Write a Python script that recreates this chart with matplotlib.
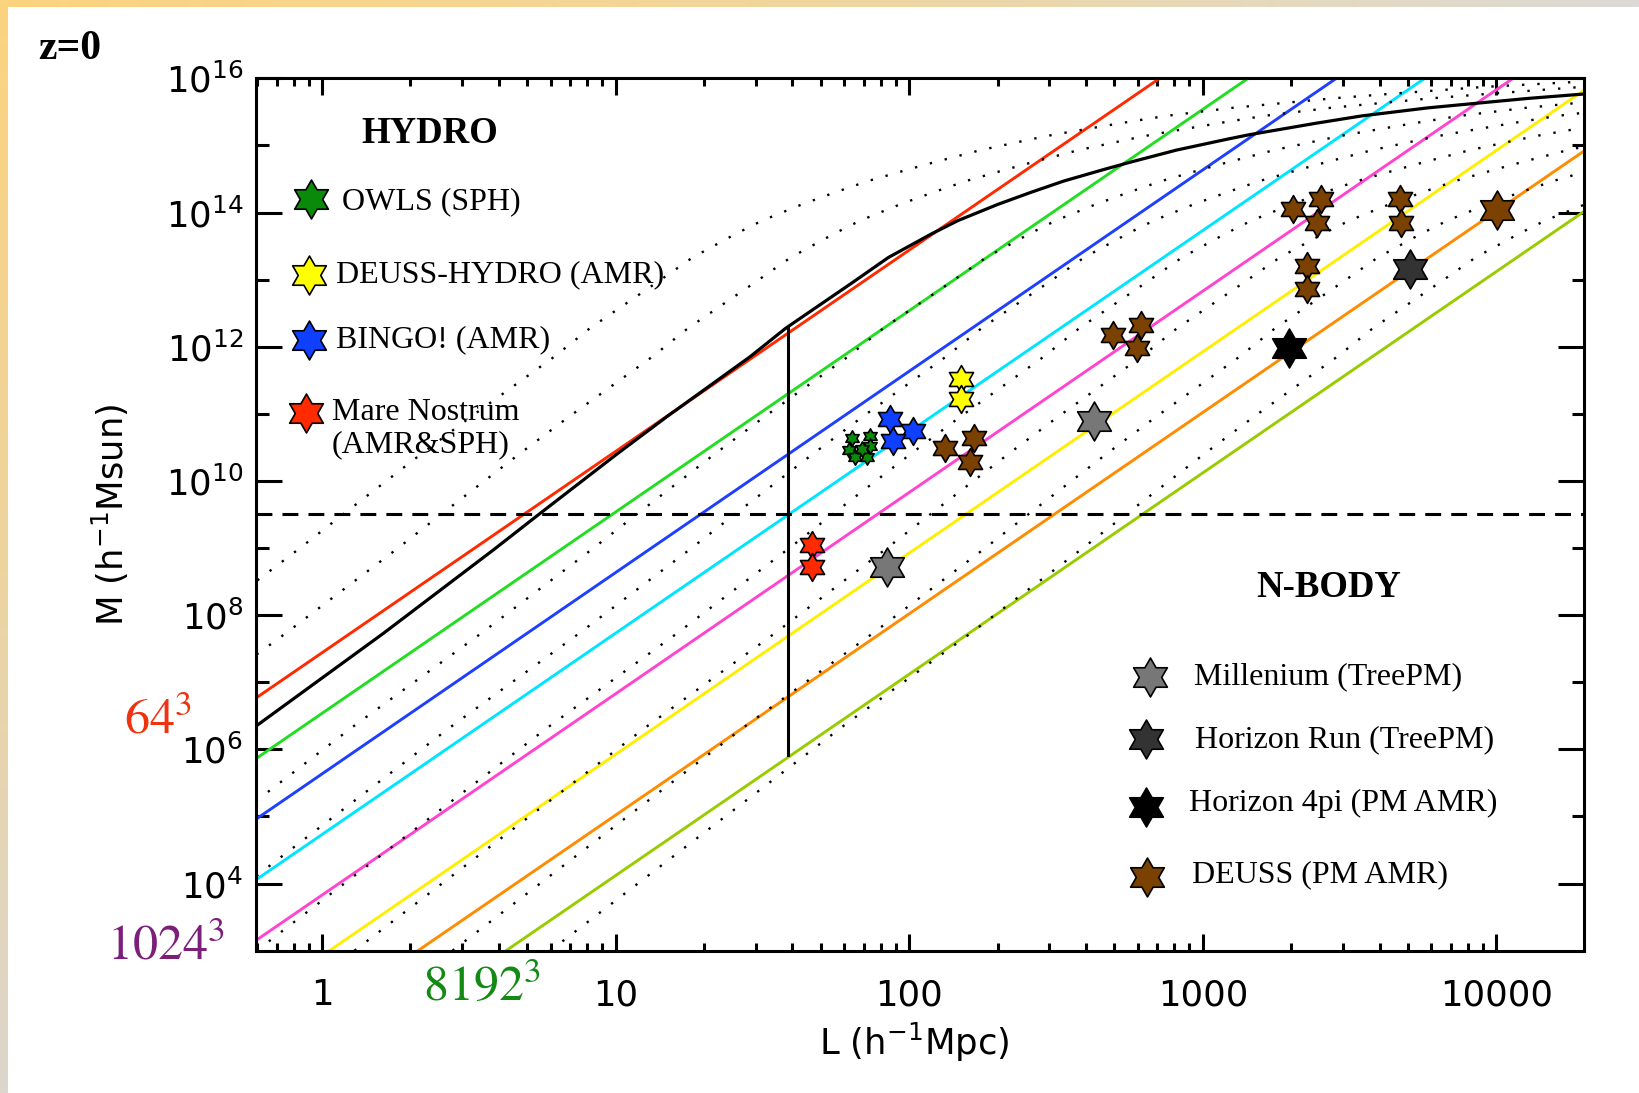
import numpy as np
import matplotlib
matplotlib.use('Agg')
import matplotlib.pyplot as plt
from matplotlib.path import Path
from matplotlib.colors import LinearSegmentedColormap
from matplotlib.ticker import FixedLocator, LogLocator, NullFormatter, FuncFormatter

# --- data ---
# 100 x particle mass for N^3 particles: mass at L = 1 h^-1 Mpc (M grows as L^3)
res_labels = ['64', '128', '256', '512', '1024', '2048', '4096', '8192']
res_m_at_1 = [2.76e7, 3.45e6, 4.32e5, 5.40e4, 6.75e3, 8.43e2, 1.05e2, 1.32e1]
res_colors = ['#ff2a00', '#22dd22', '#1f3fff', '#00e5ff', '#ff44d0', '#ffee00', '#ff8c00', '#99cc00']

# most massive halo in the box (solid black); first / last two points read from the dotted copies
halo_logL = [-1.223, -0.228, 0.209, 0.583, 0.743, 1.004, 1.174, 1.458, 1.579, 1.8045,
             1.929, 2.075, 2.166, 2.301, 2.414, 2.527, 2.662, 2.753, 2.910, 3.091, 3.159,
             3.385, 3.542, 3.768, 3.949, 4.107, 4.287, 4.62, 4.954]
halo_logM = [3.0, 6.338, 7.730, 8.971, 9.518, 10.40, 10.957, 11.852, 12.275, 12.95,
             13.33, 13.68, 13.88, 14.12, 14.30, 14.47, 14.64, 14.75, 14.93, 15.10, 15.16,
             15.33, 15.44, 15.56, 15.635, 15.70, 15.762, 15.87, 15.95]
# dotted curves: same curve for 10^k halos per box, shifted by k/3 decades in L
dotted_shift = [-0.667, -0.333, 0.333, 0.667, 1.0, 1.333, 1.667, 2.0]

dash_M = 3.2e9
vert_L = 38.5
vert_M = [8.3e5, 1.9e12]

owls_L = [63.7, 73.5, 62.1, 65.3, 71.6, 73.5, 68.9]
owls_M = [4.33e10, 4.72e10, 2.89e10, 2.25e10, 2.25e10, 3.31e10, 2.95e10]
bingo_L = [86.1, 103.3, 88.3]
bingo_M = [8.30e10, 5.56e10, 3.98e10]
deussh_L = [149.6, 149.6]
deussh_M = [3.27e11, 1.65e11]
mare_L = [46.6, 46.6]
mare_M = [1.11e9, 5.27e8]
mill_L = [83.8, 426.6]
mill_M = [5.16e8, 7.91e10]
hrun_L = [5070]
hrun_M = [1.43e13]
h4pi_L = [1968]
h4pi_M = [0.95e12]
deuss_L = [132.4, 166.3, 161.1, 495.5, 618.0, 598.4, 2028, 2535, 2443, 2259, 2270, 4699, 4721]
deuss_M = [3.07e10, 4.33e10, 1.94e10, 1.51e12, 2.09e12, 9.55e11, 1.12e14, 1.57e14, 7.05e13,
           1.60e13, 7.18e12, 1.57e14, 7.05e13]
deuss_big_L = [10020]
deuss_big_M = [1.09e14]

hydro_names = ['OWLS (SPH)', 'DEUSS-HYDRO (AMR)', 'BINGO! (AMR)', 'Mare Nostrum\n(AMR&SPH)']
hydro_colors = ['#0a8a0a', '#ffff00', '#1040ff', '#ff2a00']
nbody_names = ['Millenium (TreePM)', 'Horizon Run (TreePM)', 'Horizon 4pi (PM AMR)', 'DEUSS (PM AMR)']
nbody_colors = ['#777777', '#333333', '#000000', '#7a4100']

W, H = 1639, 1093
fig = plt.figure(figsize=(W / 100, H / 100), dpi=100)
fig.patch.set_facecolor('white')

# orange-ish frame strips
top = fig.add_axes([0, 1 - 7 / H, 1, 7 / H])
top.imshow(np.linspace(0, 1, 256)[None, :], aspect='auto',
           cmap=LinearSegmentedColormap.from_list('t', ['#fcd37f', '#f0d69e', '#dcdad6']))
top.axis('off')
lft = fig.add_axes([0, 0, 8 / W, 1])
lft.imshow(np.linspace(0, 1, 256)[:, None], aspect='auto',
           cmap=LinearSegmentedColormap.from_list('l', ['#fcd37f', '#eed49e', '#dcd6cc']))
lft.axis('off')

ax = fig.add_axes([255.5 / W, 1 - 950.7 / H, 1328 / W, 872.4 / H])
ax.set_xscale('log')
ax.set_yscale('log')
ax.set_xlim(0.593, 1.98e4)
ax.set_ylim(1e3, 1e16)

Lspan = np.array(ax.get_xlim())
for m1, c in zip(res_m_at_1, res_colors):
    ax.plot(Lspan, m1 * Lspan ** 3, color=c, lw=2.1, zorder=2)

hL = np.array(halo_logL)
hM = 10 ** np.array(halo_logM)
for s in dotted_shift:
    ax.plot(10 ** (hL + s), hM, color='k', lw=1.7, ls=(0, (1, 5.5)), zorder=2)
ax.plot(10 ** hL, hM, color='k', lw=2.3, zorder=3)

ax.axhline(dash_M, color='k', lw=2.2, ls=(0, (5.2, 3.3)), zorder=3)
ax.plot([vert_L, vert_L], vert_M, color='k', lw=2.2, zorder=3)

# six-pointed star marker
ang = np.deg2rad(90 + 30 * np.arange(13))
rad = np.where(np.arange(13) % 2 == 0, 1.0, 1 / np.sqrt(3))
star = Path(np.column_stack([rad * np.cos(ang), rad * np.sin(ang)]), closed=True)

def stars(x, y, c, ms):
    ax.plot(x, y, ls='none', marker=star, ms=ms, mfc=c, mec='k', mew=1.2, zorder=5, clip_on=False)

stars(owls_L, owls_M, hydro_colors[0], 11)
stars(bingo_L, bingo_M, hydro_colors[2], 20)
stars(deussh_L, deussh_M, hydro_colors[1], 20)
stars(mare_L, mare_M, hydro_colors[3], 20)
stars(mill_L, mill_M, nbody_colors[0], 28)
stars(hrun_L, hrun_M, nbody_colors[1], 28)
stars(h4pi_L, h4pi_M, nbody_colors[2], 28)
stars(deuss_L, deuss_M, nbody_colors[3], 20)
stars(deuss_big_L, deuss_big_M, nbody_colors[3], 28)

# axes styling
for sp in ax.spines.values():
    sp.set_linewidth(2.2)
ax.yaxis.set_major_locator(FixedLocator([10.0 ** e for e in range(4, 17, 2)]))
ax.yaxis.set_minor_locator(FixedLocator([10.0 ** e for e in range(5, 16, 2)]))
ax.yaxis.set_minor_formatter(NullFormatter())
ax.xaxis.set_major_locator(LogLocator(base=10, numticks=12))
ax.xaxis.set_minor_locator(LogLocator(base=10, subs=np.arange(2, 10), numticks=40))
ax.xaxis.set_major_formatter(FuncFormatter(lambda v, p: '%g' % v))
ax.xaxis.set_minor_formatter(NullFormatter())
ax.tick_params(which='both', direction='in', top=True, right=True, width=2.2, color='k')
ax.tick_params(axis='y', which='major', length=19, labelsize=25.5, pad=9)
ax.tick_params(axis='y', which='minor', length=9)
ax.tick_params(axis='x', which='major', length=12, labelsize=25.5, pad=20)
ax.tick_params(axis='x', which='minor', length=6)

ax.set_xlabel(r'L (h$^{-1}$Mpc)', fontsize=25.5, va='center')
ax.xaxis.set_label_coords(0.4963, -0.1047)
ax.set_ylabel(r'M (h$^{-1}$Msun)', fontsize=25.5, va='center')
ax.yaxis.set_label_coords(-0.1096, 0.4994)

# legends drawn by hand (axes fraction)
serif = 'Liberation Serif'
ax.text(0.1314, 0.9370, 'HYDRO', transform=ax.transAxes, ha='center', va='center',
        family=serif, weight='bold', fontsize=26.5)
hydro_star_xy = [(0.0416, 0.8613), (0.0401, 0.7745), (0.0405, 0.700), (0.0380, 0.616)]
hydro_text_xy = [(0.0649, 0.8585), (0.0606, 0.7745), (0.0606, 0.700), (0.0574, 0.598)]
for (sx, sy), (tx, ty), name, c in zip(hydro_star_xy, hydro_text_xy, hydro_names, hydro_colors):
    ax.plot(sx, sy, transform=ax.transAxes, marker=star, ms=28, mfc=c, mec='k', mew=1.2, zorder=6)
    ax.text(tx, ty, name, transform=ax.transAxes, ha='left', va='center', family=serif,
            fontsize=23, linespacing=1.15, zorder=6)

ax.text(0.808, 0.416, 'N-BODY', transform=ax.transAxes, ha='center', va='center',
        family=serif, weight='bold', fontsize=26.5)
nbody_star_xy = [(0.6732, 0.3141), (0.6704, 0.2423), (0.6704, 0.1651), (0.6713, 0.0848)]
nbody_text_xy = [(0.7066, 0.3141), (0.7072, 0.2423), (0.7029, 0.1693), (0.7052, 0.0868)]
for (sx, sy), (tx, ty), name, c in zip(nbody_star_xy, nbody_text_xy, nbody_names, nbody_colors):
    ax.plot(sx, sy, transform=ax.transAxes, marker=star, ms=28, mfc=c, mec='k', mew=1.2, zorder=6)
    ax.text(tx, ty, name, transform=ax.transAxes, ha='left', va='center', family=serif,
            fontsize=23, zorder=6)

fig.text(38.7 / W, 1 - 49 / H, 'z=0', ha='left', va='center', family=serif,
         weight='bold', fontsize=30)
fig.text(124 / W, 1 - 733 / H, r'$64^3$', color='#ee3311', fontsize=36,
         math_fontfamily='stix', ha='left', va='baseline')
fig.text(107 / W, 1 - 960 / H, r'$1024^3$', color='#7b1f7b', fontsize=36,
         math_fontfamily='stix', ha='left', va='baseline')
fig.text(423 / W, 1 - 1000 / H, r'$8192^3$', color='#138a13', fontsize=36,
         math_fontfamily='stix', ha='left', va='baseline')

fig.savefig('out.png', dpi=100)
